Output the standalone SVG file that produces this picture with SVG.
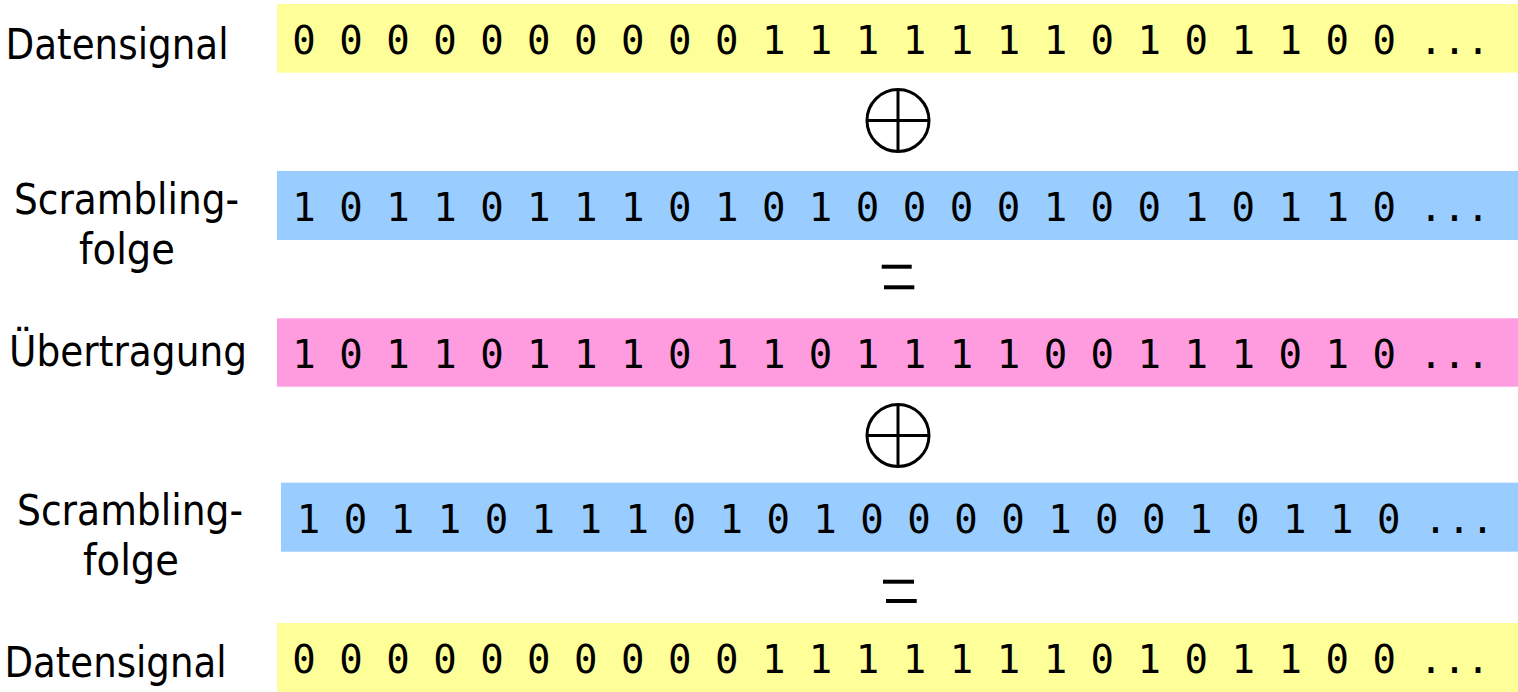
<svg xmlns="http://www.w3.org/2000/svg" width="1518" height="692" viewBox="0 0 1518 692">
<style>
.lbl{font-family:"DejaVu Sans","Liberation Sans",sans-serif;font-size:42px;fill:#000;text-anchor:middle}
.bits{font-family:"DejaVu Sans Mono","Liberation Mono",monospace;font-size:39px;fill:#000}
.y{fill:#FFFF99}
.b{fill:#99CCFF}
.p{fill:#FF9CDF}
.op{fill:none;stroke:#000;stroke-width:3}
.eq{stroke:#000;stroke-width:4}
</style>
<rect width="1518" height="692" fill="#fff"/>
<g id="row-datensignal-1">
<rect class="y" x="277" y="4" width="1241" height="68.7"/>
<text class="lbl" x="117" y="59.3" textLength="223" lengthAdjust="spacingAndGlyphs">Datensignal</text>
<text class="bits" x="292.3" y="53.5" xml:space="preserve">0 0 0 0 0 0 0 0 0 0 1 1 1 1 1 1 1 0 1 0 1 1 0 0 ...</text>
</g>
<g id="xor-1">
<circle class="op" cx="898" cy="120.5" r="31"/>
<line class="op" x1="867" y1="120.5" x2="929" y2="120.5"/>
<line class="op" x1="898" y1="89.5" x2="898" y2="151.5"/>
</g>
<g id="row-scrambling-1">
<rect class="b" x="277" y="171" width="1241" height="69"/>
<text class="lbl" x="126.5" y="213.5" textLength="225" lengthAdjust="spacingAndGlyphs">Scrambling-</text>
<text class="lbl" x="127" y="263.5" textLength="96" lengthAdjust="spacingAndGlyphs">folge</text>
<text class="bits" x="292.3" y="220.7" xml:space="preserve">1 0 1 1 0 1 1 1 0 1 0 1 0 0 0 0 1 0 0 1 0 1 1 0 ...</text>
</g>
<g id="equals-1">
<line class="eq" x1="881.7" y1="266.7" x2="911.7" y2="266.7"/>
<line class="eq" x1="884" y1="287.3" x2="914.3" y2="287.3"/>
</g>
<g id="row-uebertragung">
<rect class="p" x="277" y="318.3" width="1241" height="68.4"/>
<text class="lbl" x="128" y="366.3" textLength="238" lengthAdjust="spacingAndGlyphs">Übertragung</text>
<text class="bits" x="292.3" y="368.3" xml:space="preserve">1 0 1 1 0 1 1 1 0 1 1 0 1 1 1 1 0 0 1 1 1 0 1 0 ...</text>
</g>
<g id="xor-2">
<circle class="op" cx="898" cy="435.5" r="31"/>
<line class="op" x1="867" y1="435.5" x2="929" y2="435.5"/>
<line class="op" x1="898" y1="404.5" x2="898" y2="466.5"/>
</g>
<g id="row-scrambling-2">
<rect class="b" x="281" y="482.7" width="1237" height="69"/>
<text class="lbl" x="130" y="525.3" textLength="226" lengthAdjust="spacingAndGlyphs">Scrambling-</text>
<text class="lbl" x="131" y="575.3" textLength="96" lengthAdjust="spacingAndGlyphs">folge</text>
<text class="bits" x="296.8" y="533.3" xml:space="preserve">1 0 1 1 0 1 1 1 0 1 0 1 0 0 0 0 1 0 0 1 0 1 1 0 ...</text>
</g>
<g id="equals-2">
<line class="eq" x1="883" y1="581.7" x2="914" y2="581.7"/>
<line class="eq" x1="886" y1="601" x2="916.7" y2="601"/>
</g>
<g id="row-datensignal-2">
<rect class="y" x="277" y="623" width="1241" height="69"/>
<text class="lbl" x="115.5" y="677" textLength="222" lengthAdjust="spacingAndGlyphs">Datensignal</text>
<text class="bits" x="292.3" y="673.3" xml:space="preserve">0 0 0 0 0 0 0 0 0 0 1 1 1 1 1 1 1 0 1 0 1 1 0 0 ...</text>
</g>
<g id="connectors"></g>
</svg>
